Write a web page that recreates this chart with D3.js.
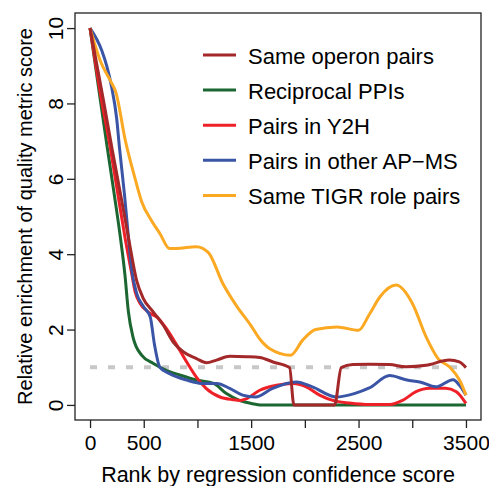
<!DOCTYPE html>
<html>
<head>
<meta charset="utf-8">
<script src="https://cdn.jsdelivr.net/npm/d3@7"></script>
<style>
  body { margin: 0; background: #fff; }
  text { font-family: "Liberation Sans", Arial, Helvetica, sans-serif; }
</style>
</head>
<body>
<div id="chart-area"></div>
<script>
// data: rank and relative enrichment per series
const operonRank  = [0, 124, 205, 290, 362, 434, 495, 588, 681, 774, 867, 991, 1084, 1177, 1301, 1456, 1580, 1704, 1858, 1898, 2277, 2339, 2447, 2602, 2788, 2943, 3128, 3345, 3438, 3500]
const operonValue = [10, 8.1, 6.8, 5.5, 4.37, 3.3, 2.83, 2.47, 2.12, 1.67, 1.41, 1.23, 1.12, 1.19, 1.29, 1.28, 1.26, 1.14, 0.99, 0, 0, 0.99, 1.07, 1.08, 1.07, 1.01, 1.05, 1.19, 1.14, 0.99]

const ppiRank  = [0, 80, 162, 230, 286, 325, 356, 400, 480, 590, 710, 840, 990, 1150, 1270, 1390, 1500, 1600, 2000, 2500, 3000, 3500]
const ppiValue = [10, 8.4, 6.8, 5.5, 4.37, 3.45, 2.5, 1.8, 1.32, 1.1, 0.92, 0.79, 0.66, 0.57, 0.3, 0.12, 0.04, 0, 0, 0, 0, 0]

const y2hRank  = [0, 100, 190, 270, 330, 387, 420, 465, 540, 635, 710, 805, 900, 990, 1080, 1210, 1330, 1400, 1460, 1580, 1735, 1890, 2013, 2137, 2260, 2416, 2600, 2790, 2910, 3035, 3160, 3310, 3410, 3500]
const y2hValue = [10, 8.2, 6.8, 5.4, 4.37, 3.5, 3.0, 2.7, 2.47, 2.3, 2.03, 1.6, 1.14, 0.74, 0.44, 0.21, 0.14, 0.12, 0.17, 0.39, 0.52, 0.57, 0.48, 0.26, 0.12, 0.05, 0.01, 0.01, 0.12, 0.35, 0.44, 0.44, 0.35, 0.04]

const apmsRank  = [0, 110, 155, 200, 248, 275, 320, 360, 390, 434, 500, 560, 600, 650, 740, 900, 1050, 1180, 1300, 1420, 1540, 1700, 1920, 2070, 2290, 2460, 2600, 2790, 2950, 3070, 3220, 3380, 3440, 3500]
const apmsValue = [10, 9.4, 9.0, 8.45, 7.6, 6.8, 5.6, 4.37, 3.55, 2.96, 2.6, 2.34, 1.6, 1.0, 0.83, 0.66, 0.57, 0.57, 0.44, 0.26, 0.21, 0.44, 0.61, 0.48, 0.21, 0.3, 0.45, 0.78, 0.66, 0.61, 0.48, 0.67, 0.52, 0.26]

const tigrRank  = [0, 100, 190, 240, 330, 420, 480, 570, 650, 740, 800, 990, 1100, 1240, 1370, 1500, 1580, 1670, 1870, 1980, 2100, 2300, 2500, 2600, 2700, 2850, 3000, 3130, 3240, 3350, 3440, 3500]
const tigrValue = [10, 9.1, 8.6, 8.3, 7.0, 6.0, 5.4, 4.9, 4.55, 4.15, 4.15, 4.2, 4.05, 3.2, 2.6, 2.1, 1.75, 1.5, 1.32, 1.72, 2.0, 2.07, 1.98, 2.4, 2.87, 3.18, 2.7, 1.8, 1.23, 1.0, 0.66, 0.26]

const seriesNames  = ["Same operon pairs", "Reciprocal PPIs", "Pairs in Y2H", "Pairs in other AP\u2212MS", "Same TIGR role pairs"]
const seriesColors = ["#a3282a", "#1b6631", "#ee2028", "#3a55a5", "#fba923"]

const xTicks = [0, 500, 1000, 1500, 2000, 2500, 3000, 3500]
const xTickLabels = ["0", "500", "", "1500", "", "2500", "", "3500"]
const yTicks = [0, 2, 4, 6, 8, 10]
const baseline = 1

const seriesList = [
  { name: seriesNames[0], color: seriesColors[0], rank: operonRank, value: operonValue },
  { name: seriesNames[1], color: seriesColors[1], rank: ppiRank, value: ppiValue },
  { name: seriesNames[2], color: seriesColors[2], rank: y2hRank, value: y2hValue },
  { name: seriesNames[3], color: seriesColors[3], rank: apmsRank, value: apmsValue },
  { name: seriesNames[4], color: seriesColors[4], rank: tigrRank, value: tigrValue }
]

const svgWidth = 489
const svgHeight = 486
const box = { left: 75, right: 481, top: 13, bottom: 420 }

const svg = d3.select("#chart-area")
  .append("svg")
  .attr("width", svgWidth)
  .attr("height", svgHeight)

// R style 4% padding around the data range
const xScale = d3.scaleLinear()
  .domain([-140, 3640])
  .range([box.left, box.right])

const yScale = d3.scaleLinear()
  .domain([-0.4, 10.4])
  .range([box.bottom, box.top])

// reference line at enrichment 1
svg.append("line")
  .attr("x1", xScale(0))
  .attr("x2", xScale(3500))
  .attr("y1", yScale(baseline))
  .attr("y2", yScale(baseline))
  .attr("stroke", "#c8c8c8")
  .attr("stroke-width", 4)
  .attr("stroke-dasharray", "7 11")

const lineGenerator = d3.line()
  .x(d => xScale(d[0]))
  .y(d => yScale(d[1]))
  .curve(d3.curveMonotoneX)

const drawOrder = [1, 2, 3, 4, 0]
drawOrder.forEach(i => {
  const s = seriesList[i]
  svg.append("path")
    .attr("d", lineGenerator(d3.zip(s.rank, s.value)))
    .attr("fill", "none")
    .attr("stroke", s.color)
    .attr("stroke-width", 3)
    .attr("stroke-linejoin", "round")
})

svg.append("rect")
  .attr("x", box.left)
  .attr("y", box.top)
  .attr("width", box.right - box.left)
  .attr("height", box.bottom - box.top)
  .attr("fill", "none")
  .attr("stroke", "#222")
  .attr("stroke-width", 1.3)

const xAxis = svg.append("g")
  .attr("transform", `translate(0,${box.bottom})`)
  .call(d3.axisBottom(xScale)
    .tickValues(xTicks)
    .tickSize(8)
    .tickPadding(7)
    .tickFormat((d, i) => xTickLabels[i]))
xAxis.select(".domain").remove()
xAxis.selectAll("line").attr("stroke", "#222").attr("stroke-width", 1.3)
xAxis.selectAll("text")
  .attr("fill", "#000")
  .style("font-size", "21px")
  .attr("font-family", null)

const yAxis = svg.append("g")
  .attr("transform", `translate(${box.left},0)`)
  .call(d3.axisLeft(yScale).tickValues(yTicks).tickSize(8))
yAxis.select(".domain").remove()
yAxis.selectAll("line").attr("stroke", "#222").attr("stroke-width", 1.3)
yAxis.selectAll("text")
  .attr("fill", "#000")
  .attr("x", null)
  .attr("dy", null)
  .attr("font-family", null)
  .style("font-size", "21px")
  .attr("text-anchor", "middle")
  .attr("transform", "translate(-12,0) rotate(-90)")

svg.append("text")
  .attr("x", (box.left + box.right) / 2)
  .attr("y", 482)
  .attr("text-anchor", "middle")
  .style("font-size", "21.5px")
  .text("Rank by regression confidence score")

svg.append("text")
  .attr("transform", `translate(32,${(box.top + box.bottom) / 2}) rotate(-90)`)
  .attr("text-anchor", "middle")
  .style("font-size", "20px")
  .text("Relative enrichment of quality metric score")

// legend
const legend = svg.append("g")
  .attr("transform", "translate(203,55)")

seriesList.forEach((s, i) => {
  const row = legend.append("g")
    .attr("transform", `translate(0,${i * 35.1})`)
  row.append("line")
    .attr("x1", 0)
    .attr("x2", 33)
    .attr("stroke", s.color)
    .attr("stroke-width", 3)
  row.append("text")
    .attr("x", 45)
    .attr("y", 8.5)
    .style("font-size", "22px")
    .text(s.name)
})
</script>
</body>
</html>
